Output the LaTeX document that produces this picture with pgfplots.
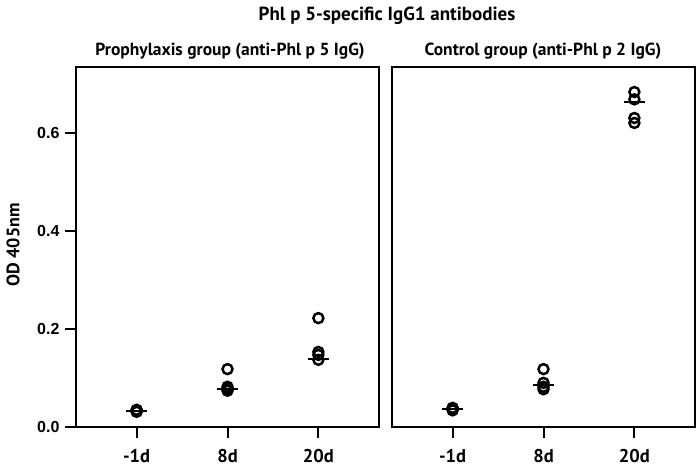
\documentclass[border=0pt]{standalone}
\usepackage{fontspec}
\setmainfont{PT Sans}
\newfontfamily\arialfont{Liberation Sans}
\usepackage{pgfplots}
\pgfplotsset{compat=1.18}
\begin{document}
\begin{tikzpicture}
\useasboundingbox (0pt,0pt) rectangle (697pt,-470pt);
\pgfplotsset{
 panel/.style={
  at={(#1,-67pt)}, anchor=north west,
  scale only axis, width=303pt, height=360pt,
  xmin=-0.667, xmax=2.667, ymin=0, ymax=0.734,
  axis line style={line width=2pt},
  xtick={0,1,2}, xticklabels={-1d,8d,20d},
  tick align=outside, tick style={line width=2pt, black},
  xtick pos=bottom, ytick pos=left,
  major tick length=11pt,
  /pgf/number format/assume math mode=true,
  x tick label style={font=\fontsize{18.5}{18.5}\selectfont\bfseries, yshift=-8pt},
  y tick label style={font=\fontsize{16}{16}\selectfont\arialfont\bfseries, xshift=-2pt},
 },
 circ/.style={only marks, mark=o, mark size=5pt, mark options={line width=2.5pt, black}, black},
 med/.style={only marks, mark=-, mark size=10.5pt, mark options={line width=2pt, black}, black},
}
\begin{axis}[panel=76pt, ytick={0,0.2,0.4,0.6}, yticklabels={0.0,0.2,0.4,0.6}]
\addplot[circ] coordinates {(0,0.031) (0,0.033) (0,0.034) (0,0.035)
 (1,0.118) (1,0.082) (1,0.078) (1,0.074)
 (2,0.222) (2,0.153) (2,0.147) (2,0.137)};
\addplot[med] coordinates {(0,0.033) (1,0.078) (2,0.139)};
\end{axis}
\begin{axis}[panel=392pt, ytick=\empty]
\addplot[circ] coordinates {(0,0.034) (0,0.036) (0,0.038) (0,0.039)
 (1,0.118) (1,0.090) (1,0.082) (1,0.077)
 (2,0.683) (2,0.668) (2,0.630) (2,0.620)};
\addplot[med] coordinates {(0,0.036) (1,0.086) (2,0.663)};
\end{axis}
\node[font=\fontsize{19}{19}\selectfont\bfseries] at (387pt,-16pt) {Phl p 5-specific IgG1 antibodies};
\node[font=\fontsize{17.5}{17.5}\selectfont\bfseries] at (230pt,-51pt) {Prophylaxis group (anti-Phl p 5 IgG)};
\node[font=\fontsize{17.5}{17.5}\selectfont\bfseries] at (543pt,-51pt) {Control group (anti-Phl p 2 IgG)};
\node[font=\fontsize{18}{18}\selectfont\bfseries, rotate=90] at (13pt,-245pt) {OD 405nm};
\end{tikzpicture}
\end{document}
